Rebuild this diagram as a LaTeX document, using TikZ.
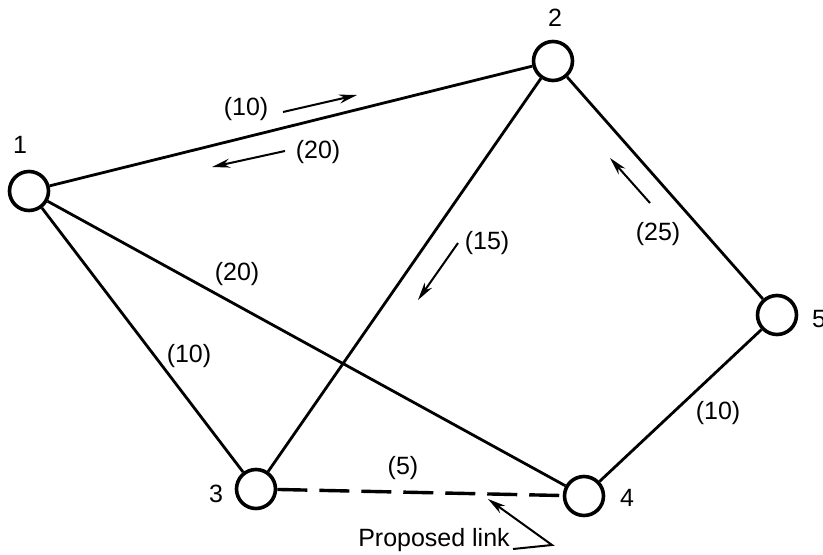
\documentclass[tikz,border=0pt]{standalone}
\usepackage{fontspec}
\setmainfont{Liberation Sans}
\usetikzlibrary{arrows.meta}
\begin{document}
\begin{tikzpicture}[x=0.5pt,y=-0.5pt,>={Stealth[length=9pt,width=4.5pt]},
  vertex/.style={circle,draw,line width=1.8pt,minimum size=19.5pt,inner sep=0pt},
  link/.style={line width=1.4pt},
  flow/.style={->,line width=1pt},
  lbl/.style={font=\fontsize{12.5}{14}\selectfont,inner sep=1pt}]
\useasboundingbox (0,0) rectangle (823,555);
% nodes
\node[vertex] (n1) at (29,191) {};
\node[vertex] (n2) at (553,61) {};
\node[vertex] (n3) at (256,489) {};
\node[vertex] (n4) at (584,496) {};
\node[vertex] (n5) at (777,315) {};
\node[lbl] (l1) at (20,145) {1};
\node[lbl] (l2) at (555,18) {2};
\node[lbl] (l3) at (216,494) {3};
\node[lbl] (l4) at (627,498) {4};
\node[lbl] (l5) at (819,319) {5};
% links
\draw[link] (n1) -- (n2);
\draw[link] (n1) -- (n3);
\draw[link] (n1) -- (n4);
\draw[link] (n2) -- (n3);
\draw[link] (n2) -- (n5);
\draw[link] (n5) -- (n4);
\draw[line width=1.7pt,dash pattern=on 15pt off 6pt] (n3) -- (n4);
% link costs
\node[lbl] (c12) at (246,109) {(10)};
\node[lbl] (c21) at (318,152) {(20)};
\node[lbl] (c23) at (487,243) {(15)};
\node[lbl] (c52) at (658,234) {(25)};
\node[lbl] (c14) at (237,274) {(20)};
\node[lbl] (c13) at (189,356) {(10)};
\node[lbl] (c54) at (718,413) {(10)};
\node[lbl] (c34) at (403,468) {(5)};
\node[lbl] (prop) at (434,540) {Proposed link};
% flow arrows
\coordinate (a12s) at (283,112); \coordinate (a12e) at (357,95);
\coordinate (a21s) at (285,151); \coordinate (a21e) at (212,167);
\coordinate (a23s) at (458,243); \coordinate (a23e) at (418,300);
\coordinate (a52s) at (650,203); \coordinate (a52e) at (610,158);
\draw[flow] (a12s) -- (a12e);
\draw[flow] (a21s) -- (a21e);
\draw[flow] (a23s) -- (a23e);
\draw[flow] (a52s) -- (a52e);
% pointer to the proposed link
\coordinate (pa) at (513,549);
\coordinate (pk) at (552,545); \coordinate (pt) at (488,499);
\draw[flow] (pa) -- (pk) -- (pt);
\end{tikzpicture}
\end{document}
